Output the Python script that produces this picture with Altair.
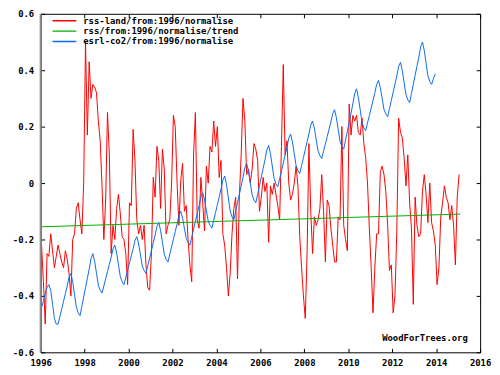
import altair as alt
import pandas as pd
import numpy as np

# ---------------- data ----------------
series_names = ["rss-land/from:1996/normalise",
                "rss/from:1996/normalise/trend",
                "esrl-co2/from:1996/normalise"]
series_colors = ["#ff0000", "#00b000", "#0a6cf0"]

start_year = 1996

# monthly rss-land anomaly (normalised), Jan 1996 .. Jan 2015
rss_land = [
    -0.22, -0.35, -0.50, -0.25, -0.26, -0.18, -0.24, -0.30, -0.26, -0.22, -0.25, -0.28,   # 1996
    -0.30, -0.24, -0.27, -0.32, -0.40, -0.20, -0.18, -0.09, -0.07, -0.13, -0.18, 0.00,    # 1997
    0.50, 0.17, 0.43, 0.30, 0.35, 0.34, 0.32, 0.22, 0.15, -0.01, -0.20, -0.06,            # 1998
    0.25, 0.10, -0.25, -0.15, -0.20, -0.09, -0.04, -0.11, -0.19, -0.20, -0.25, -0.36,     # 1999
    -0.07, -0.08, 0.19, 0.08, -0.13, -0.18, -0.15, -0.20, -0.15, -0.29, -0.37, -0.38,     # 2000
    -0.25, 0.02, -0.05, 0.13, 0.08, -0.09, 0.12, 0.05, -0.18, -0.15, -0.13, 0.00,         # 2001
    0.24, 0.20, 0.00, -0.15, 0.01, 0.07, -0.10, -0.08, -0.20, -0.29, -0.35, 0.10,         # 2002
    0.25, -0.13, -0.16, 0.02, -0.07, -0.17, 0.06, 0.00, 0.13, 0.11, 0.22, 0.13,           # 2003
    0.20, 0.02, 0.08, -0.18, -0.22, -0.30, -0.40, -0.32, -0.18, -0.09, -0.05, -0.34,      # 2004
    -0.05, 0.10, 0.30, 0.22, 0.03, 0.05, 0.00, 0.05, 0.14, 0.12, 0.08, -0.10,             # 2005
    -0.05, 0.02, -0.03, 0.00, -0.21, -0.01, -0.04, 0.00, -0.04, -0.08, -0.13, 0.13,       # 2006
    0.42, 0.10, 0.15, 0.00, -0.06, -0.04, 0.00, 0.06, -0.01, -0.19, -0.30, -0.40,         # 2007
    -0.48, -0.25, 0.14, -0.10, -0.25, -0.12, -0.15, -0.13, -0.09, 0.03, -0.10, -0.28,     # 2008
    -0.06, -0.08, -0.16, -0.22, -0.28, -0.28, -0.12, -0.13, 0.20, -0.15, -0.20, -0.24,    # 2009
    0.28, 0.17, 0.24, 0.22, 0.24, 0.18, 0.17, 0.23, 0.14, 0.09, 0.00, -0.16,              # 2010
    -0.30, -0.46, -0.30, -0.18, -0.18, 0.04, 0.06, 0.03, -0.03, -0.15, -0.31, -0.29,      # 2011
    -0.46, -0.40, -0.17, 0.23, 0.18, 0.16, 0.09, -0.01, 0.10, -0.07, -0.16, -0.43,        # 2012
    -0.05, -0.15, -0.19, -0.18, -0.03, 0.03, -0.04, -0.14, 0.00, -0.14, -0.17, -0.22,     # 2013
    -0.36, -0.30, -0.12, -0.07, -0.01, -0.05, -0.07, -0.13, -0.08, -0.15, -0.29, -0.05,   # 2014
    0.03,                                                                                 # 2015
]

# monthly esrl co2 (normalised), Jan 1996 .. Dec 2013
co2 = [
    -0.44, -0.42, -0.39, -0.37, -0.36, -0.38, -0.43, -0.48, -0.50, -0.50, -0.473, -0.446,
    -0.419, -0.392, -0.365, -0.334, -0.32, -0.35, -0.395, -0.44, -0.46, -0.47, -0.437, -0.404,
    -0.371, -0.338, -0.305, -0.268, -0.25, -0.278, -0.32, -0.362, -0.38, -0.39, -0.365, -0.339,
    -0.314, -0.288, -0.263, -0.234, -0.22, -0.248, -0.29, -0.332, -0.35, -0.36, -0.335, -0.309,
    -0.284, -0.258, -0.233, -0.204, -0.19, -0.216, -0.255, -0.294, -0.31, -0.32, -0.293, -0.266,
    -0.239, -0.212, -0.185, -0.154, -0.14, -0.168, -0.21, -0.252, -0.27, -0.28, -0.253, -0.226,
    -0.199, -0.172, -0.145, -0.114, -0.10, -0.124, -0.16, -0.196, -0.21, -0.22, -0.192, -0.164,
    -0.136, -0.108, -0.08, -0.049, -0.034, -0.059, -0.097, -0.135, -0.15, -0.16, -0.132, -0.105,
    -0.077, -0.049, -0.021, 0.01, 0.025, -0.006, -0.053, -0.099, -0.12, -0.13, -0.10, -0.07,
    -0.04, -0.01, 0.02, 0.054, 0.07, 0.042, 0.0, -0.042, -0.06, -0.07, -0.04, -0.009,
    0.021, 0.052, 0.082, 0.117, 0.133, 0.104, 0.06, 0.016, -0.003, -0.013, 0.015, 0.043,
    0.071, 0.099, 0.127, 0.159, 0.174, 0.146, 0.104, 0.062, 0.044, 0.034, 0.062, 0.09,
    0.118, 0.146, 0.174, 0.205, 0.22, 0.193, 0.153, 0.114, 0.097, 0.087, 0.113, 0.139,
    0.165, 0.191, 0.217, 0.246, 0.26, 0.232, 0.19, 0.148, 0.13, 0.12, 0.152, 0.184,
    0.216, 0.248, 0.281, 0.317, 0.334, 0.304, 0.26, 0.216, 0.196, 0.186, 0.213, 0.239,
    0.266, 0.293, 0.32, 0.35, 0.364, 0.338, 0.30, 0.261, 0.245, 0.235, 0.264, 0.293,
    0.322, 0.351, 0.38, 0.413, 0.428, 0.399, 0.356, 0.314, 0.295, 0.285, 0.317, 0.35,
    0.382, 0.414, 0.446, 0.483, 0.50, 0.47, 0.425, 0.38, 0.36, 0.35, 0.37, 0.387,
]

# linear trend of rss (two end points)
trend_years = [1996.0, 2015.1]
trend_values = [-0.155, -0.11]

x_ticks = list(range(1996, 2017, 2))
y_ticks = [-0.6, -0.4, -0.2, 0.0, 0.2, 0.4, 0.6]

credit_text = ["WoodForTrees.org"]
credit_year = [2015.44]
credit_value = [-0.561]

# ---------------- tables ----------------
red_df = pd.DataFrame({
    "year": start_year + (np.arange(len(rss_land)) + 0.5) / 12.0,
    "value": rss_land,
    "series": series_names[0],
})
green_df = pd.DataFrame({"year": trend_years, "value": trend_values, "series": series_names[1]})
blue_df = pd.DataFrame({
    "year": start_year + (np.arange(len(co2)) + 0.5) / 12.0,
    "value": co2,
    "series": series_names[2],
})
edge_df = pd.DataFrame({"year": [x_ticks[0]]})
credit_df = pd.DataFrame({"year": credit_year, "value": credit_value, "text": credit_text})

FONT = "DejaVu Sans Mono"

xscale = alt.Scale(domain=[x_ticks[0], x_ticks[-1]], nice=False, zero=False)
yscale = alt.Scale(domain=[y_ticks[0], y_ticks[-1]], nice=False, zero=False)

color = alt.Color(
    "series:N",
    scale=alt.Scale(domain=series_names, range=series_colors),
    sort=series_names,
    legend=alt.Legend(
        title=None, orient="none", legendX=11, legendY=2,
        symbolType="stroke", symbolSize=576, symbolStrokeWidth=1.5,
        clipHeight=10, rowPadding=0.5, padding=0, labelOffset=6,
        labelFont=FONT, labelFontSize=9, labelFontWeight="bold",
        labelColor="black", labelLimit=0,
    ),
)

axis_common = dict(
    labelFont=FONT, labelFontSize=9, labelFontWeight="bold", labelColor="black",
    tickColor="black", tickSize=4, tickWidth=1, offset=-4, domain=False,
    grid=False, title=None, labelFlush=False, labelOverlap=False,
)

y_label_expr = ("datum.value == 0 ? '0' : (datum.value < 0 ? '-' : '') + "
                "format(abs(datum.value), '.1f')")

red = alt.Chart(red_df).mark_line(strokeWidth=1).encode(
    x=alt.X("year:Q", scale=xscale,
            axis=alt.Axis(orient="bottom", values=x_ticks, format="d",
                          labelPadding=6, **axis_common)),
    y=alt.Y("value:Q", scale=yscale,
            axis=alt.Axis(orient="left", values=y_ticks, labelExpr=y_label_expr,
                          labelPadding=7, **axis_common)),
    color=color,
)

green = alt.Chart(green_df).mark_line(strokeWidth=1).encode(
    x=alt.X("year:Q", scale=xscale,
            axis=alt.Axis(orient="top", values=x_ticks, labels=False, **axis_common)),
    y=alt.Y("value:Q", scale=yscale,
            axis=alt.Axis(orient="right", values=y_ticks, labels=False, **axis_common)),
    color=color,
)

blue = alt.Chart(blue_df).mark_line(strokeWidth=1).encode(
    x=alt.X("year:Q", scale=xscale, axis=None),
    y=alt.Y("value:Q", scale=yscale, axis=None),
    color=color,
)

left_edge = alt.Chart(edge_df).mark_rule(color="#8c8c8c", strokeWidth=2).encode(
    x=alt.X("year:Q", scale=xscale, axis=None),
)

credit = alt.Chart(credit_df).mark_text(
    align="right", baseline="alphabetic", font=FONT, fontSize=9,
    fontWeight="bold", color="black",
).encode(
    x=alt.X("year:Q", scale=xscale, axis=None),
    y=alt.Y("value:Q", scale=yscale, axis=None),
    text="text:N",
)

chart = (
    alt.layer(red, green, blue, left_edge, credit)
    .resolve_axis(x="independent", y="independent")
    .properties(
        width=444, height=342,
        autosize=alt.AutoSizeParams(type="none"),
        padding={"left": 33, "top": 4, "right": 12, "bottom": 16},
        background="white",
    )
    .configure_view(stroke="black", strokeWidth=1)
)

chart.save("out.html", embed_options={"renderer": "svg", "actions": False})
